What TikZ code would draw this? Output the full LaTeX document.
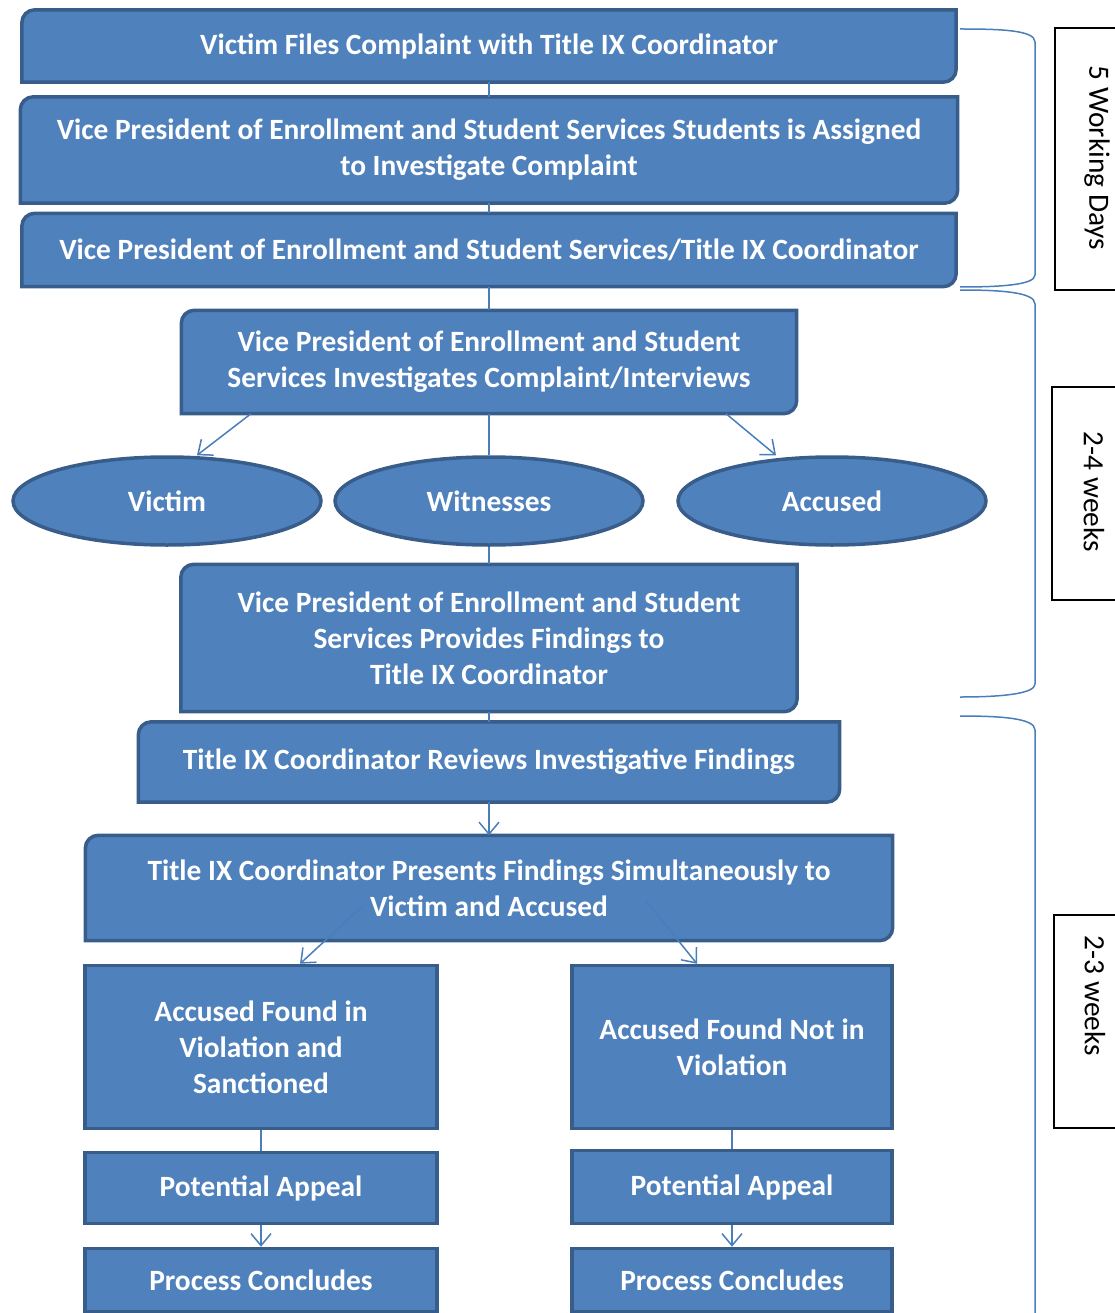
\documentclass[tikz,border=0pt]{standalone}
\usepackage{fontspec}
\setmainfont{Carlito}
\usetikzlibrary{shapes.geometric,arrows.meta,backgrounds}

\definecolor{boxfill}{HTML}{4F81BD}
\definecolor{boxedge}{HTML}{385D8A}
\definecolor{linkblue}{HTML}{4A7EBB}

\tikzset{
  stage/.style={text=white, align=center, minimum width=#1,
    font=\fontsize{29.4}{36}\selectfont\bfseries},
  sqbox/.style={stage=#1, draw=boxedge, fill=boxfill, line width=3.5pt},
  talk/.style={ellipse, draw=boxedge, fill=boxfill, line width=3.5pt,
    minimum width=308pt, minimum height=88pt, text=white,
    font=\fontsize{29.4}{36}\selectfont\bfseries},
  link/.style={draw=linkblue, line width=1.5pt},
  arr/.style={link, -{Straight Barb[length=12pt,width=20pt,line width=1.5pt]}},
  span/.style={draw=linkblue, line width=1.5pt},
  daybox/.style={draw=black, line width=1.3pt, fill=white, minimum width=90pt},
  daytext/.style={rotate=-90, font=\fontsize{29.4}{34}\selectfont}
}

\begin{document}
\begin{tikzpicture}[x=1pt, y=-1pt]
	\useasboundingbox (0,0) rectangle (1114,1313);

	\node (files) [stage=934pt, minimum height=72pt] at (489,46) {Victim Files Complaint with Title IX Coordinator};
	\node (assign) [stage=937pt, minimum height=106pt, below of=files, node distance=104pt] {Vice President of Enrollment and Student Services Students is Assigned\\to Investigate Complaint};
	\node (vp) [stage=934pt, minimum height=73pt, below of=assign, node distance=100pt] {Vice President of Enrollment and Student Services/Title IX Coordinator};
	\node (invest) [stage=615pt, minimum height=103pt, below of=vp, node distance=112pt] {Vice President of Enrollment and Student\\Services Investigates Complaint/Interviews};
	\node (witness) [talk, below of=invest, node distance=139pt] {Witnesses};
	\node (victim) [talk, left of=witness, node distance=322pt] {Victim};
	\node (accused) [talk, right of=witness, node distance=343pt] {Accused};
	\node (provide) [stage=616pt, minimum height=147pt, below of=witness, node distance=137pt] {Vice President of Enrollment and Student\\Services Provides Findings to\\Title IX Coordinator};
	\node (review) [stage=701pt, minimum height=80pt, below of=provide, node distance=124pt] {Title IX Coordinator Reviews Investigative Findings};
	\node (present) [stage=807pt, minimum height=105pt, below of=review, node distance=126pt] {Title IX Coordinator Presents Findings Simultaneously to\\Victim and Accused};

	\node (guilty) [sqbox=352pt, minimum height=163pt] at (261,1047) {Accused Found in\\Violation and\\Sanctioned};
	\node (notguilty) [sqbox=320pt, minimum height=163pt] at (732,1047) {Accused Found Not in\\Violation};
	\node (appealL) [sqbox=352pt, minimum height=71pt, below of=guilty, node distance=141pt] {Potential Appeal};
	\node (appealR) [sqbox=320pt, minimum height=73pt, below of=notguilty, node distance=140pt] {Potential Appeal};
	\node (endL) [sqbox=352pt, minimum height=63pt, below of=appealL, node distance=92pt] {Process Concludes};
	\node (endR) [sqbox=320pt, minimum height=63pt, below of=appealR, node distance=93pt] {Process Concludes};

	% boxes with two round corners
	\begin{scope}[on background layer]
	\foreach \n in {files,assign,vp,invest,provide,review,present}
		\filldraw[draw=boxedge, fill=boxfill, line width=3.5pt]
			(\n.south west) -- ([yshift=-13pt]\n.north west)
			arc[start angle=180, end angle=90, radius=13pt] -- (\n.north east)
			-- ([yshift=13pt]\n.south east)
			arc[start angle=0, end angle=-90, radius=13pt] -- cycle;
	\end{scope}

	\draw[link] (files) -- (assign);
	\draw[link] (assign) -- (vp);
	\draw[link] (vp) -- (invest);
	\draw[link] (invest) -- (witness);
	\draw[arr] ([xshift=-238pt]invest.south) -- ([xshift=30pt]victim.north);
	\draw[arr] ([xshift=237pt]invest.south) -- ([xshift=-56pt]accused.north);
	\draw[link] (witness) -- (provide);
	\draw[link] (provide) -- (review);
	\draw[arr] (review) -- (present);
	\draw[arr] ([shift={(-126pt,35pt)}]present.south) -- ([xshift=39pt]guilty.north);
	\draw[arr] ([shift={(157pt,40pt)}]present.south) -- ([xshift=-35pt]notguilty.north);
	\draw[link] (guilty) -- (appealL);
	\draw[arr] (appealL) -- (endL);
	\draw[link] (notguilty) -- (appealR);
	\draw[arr] (appealR) -- (endR);

	% time spans
	\draw[span] (960,29) .. controls (1000,29) and (1035,30) .. (1035,42) -- (1035,275) .. controls (1035,285) and (1000,287) .. (960,287);
	\draw[span] (960,290) .. controls (1000,290) and (1035,292) .. (1035,304) -- (1035,684) .. controls (1035,694) and (1000,697) .. (960,697);
	\draw[span] (960,716) .. controls (1000,716) and (1035,718) .. (1035,730) -- (1035,1320);

	\node (wk1) [daybox, minimum height=262pt] at (1100,159) {};
	\node (wk2) [daybox, minimum height=213pt] at (1097,493.5) {};
	\node (wk3) [daybox, minimum height=213pt] at (1099,1021.5) {};
	\node [daytext] at (1097,158) {5 Working Days};
	\node [daytext] at (1094,492) {2-4 weeks};
	\node [daytext] at (1095,996) {2-3 weeks};

\end{tikzpicture}
\end{document}
